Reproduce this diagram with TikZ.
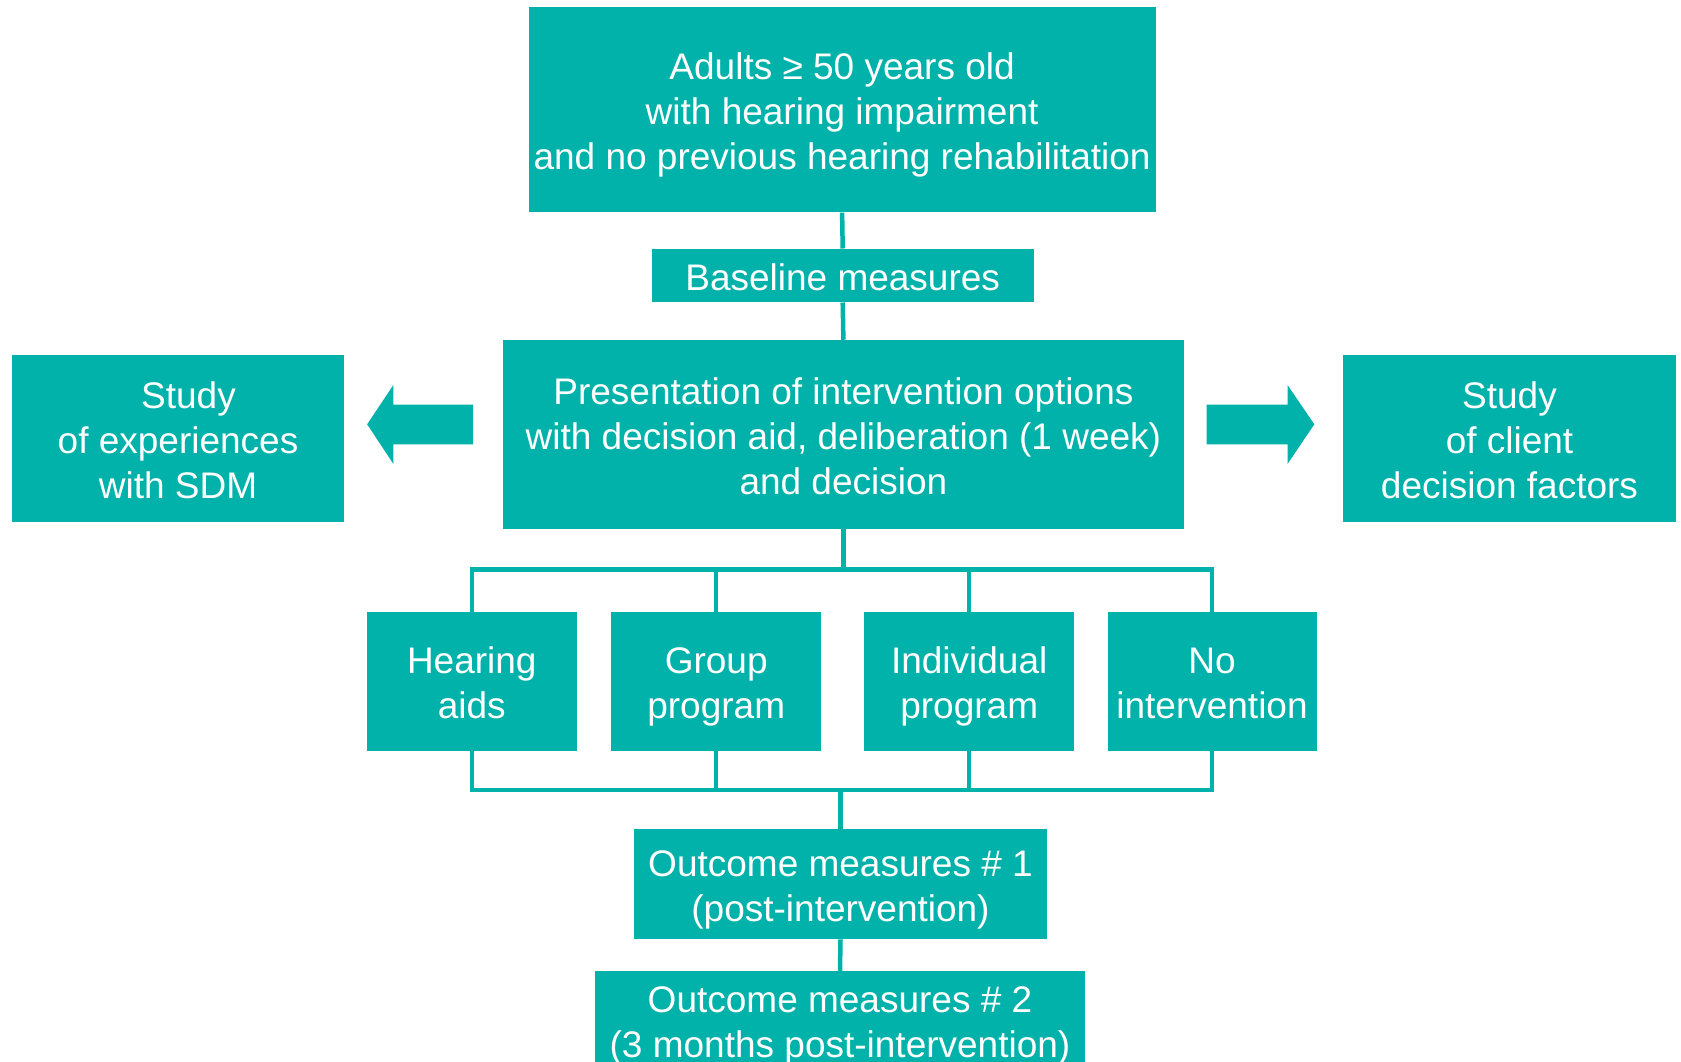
\documentclass[tikz,border=0pt]{standalone}
\usepackage{fontspec}
\setmainfont{Liberation Sans}
\definecolor{tealbox}{RGB}{0,178,169}
\newcommand\hiS{\rule{0pt}{38pt}}
\newcommand\loS{\rule[-8pt]{0pt}{8pt}}
\tikzset{
  box/.style={fill=tealbox, text=white, align=center, inner sep=0pt,
    font=\fontsize{37}{45}\selectfont},
  conn/.style={draw=tealbox, line width=4.5pt},
}
\begin{document}
\begin{tikzpicture}[x=1pt,y=-1pt]
\useasboundingbox (0,0) rectangle (1681,1061);
\clip (0,0) rectangle (1681,1061);
\node[box, minimum width=627pt, minimum height=205pt] (top) at (842.1,109.9)
  {\hiS Adults ≥ 50 years old\\with hearing impairment\\and no previous hearing rehabilitation\loS};
\node[box, minimum width=382pt, minimum height=53.6pt] (base) at (842.7,275.5) {\hiS Baseline measures\loS};
\node[box, minimum width=681pt, minimum height=188.7pt] (pres) at (843.4,434.3)
  {\hiS Presentation of intervention options\\with decision aid, deliberation (1 week)\\and decision\loS};
\node[box, minimum width=332.3pt, minimum height=167.2pt] (sl) at (178,438.5)
  {\hiS\hspace*{21pt}Study\\of experiences\\with SDM\loS};
\node[box, minimum width=332.4pt, minimum height=167.2pt] (sr) at (1509.5,438.5)
  {\hiS Study\\of client\\decision factors\loS};
\node[box, minimum width=210pt, minimum height=138.3pt] (ha) at (471.8,681.4) {\hiS Hearing\\aids\loS};
\node[box, minimum width=210pt, minimum height=138.3pt] (gp) at (716.2,681.4) {\hiS Group\\program\loS};
\node[box, minimum width=210pt, minimum height=138.3pt] (ip) at (969.2,681.4) {\hiS Individual\\program\loS};
\node[box, minimum width=209pt, minimum height=138.3pt] (ni) at (1212,681.4) {\hiS No\\intervention\loS};
\node[box, minimum width=413.8pt, minimum height=110.4pt] (o1) at (840.5,883.9)
  {\hiS Outcome measures \# 1\\(post-intervention)\loS};
\node[box, minimum width=490pt, minimum height=97pt] (o2) at (840,1019.5)
  {\hiS Outcome measures \# 2\\(3 months post-intervention)\loS};
% block arrows
\fill[tealbox] (367.2,424.3) -- (393.4,385) -- (393.4,404.7) -- (473.1,404.7)
  -- (473.1,444.3) -- (393.4,444.3) -- (393.4,464) -- cycle;
\fill[tealbox] (1314.3,424.3) -- (1287.5,385) -- (1287.5,404.7) -- (1206.5,404.7)
  -- (1206.5,444.3) -- (1287.5,444.3) -- (1287.5,464) -- cycle;
% connectors
\coordinate (bt) at (843.4,569.3);
\coordinate (bb) at (840.5,790.1);
\draw[conn] (top.south) -- (base.north);
\draw[conn] (base.south) -- (pres.north);
\draw[conn] (pres.south) -- (pres.south |- bt);
\draw[conn] (ha.north) -- (ha.north |- bt) -- (ni.north |- bt) -- (ni.north);
\draw[conn] (gp.north |- bt) -- (gp.north);
\draw[conn] (ip.north |- bt) -- (ip.north);
\draw[conn] (ha.south) -- (ha.south |- bb) -- (ni.south |- bb) -- (ni.south);
\draw[conn] (gp.south) -- (gp.south |- bb);
\draw[conn] (ip.south) -- (ip.south |- bb);
\draw[conn] (o1.north |- bb) -- (o1.north);
\draw[conn] (o1.south) -- (o2.north);
\end{tikzpicture}
\end{document}
